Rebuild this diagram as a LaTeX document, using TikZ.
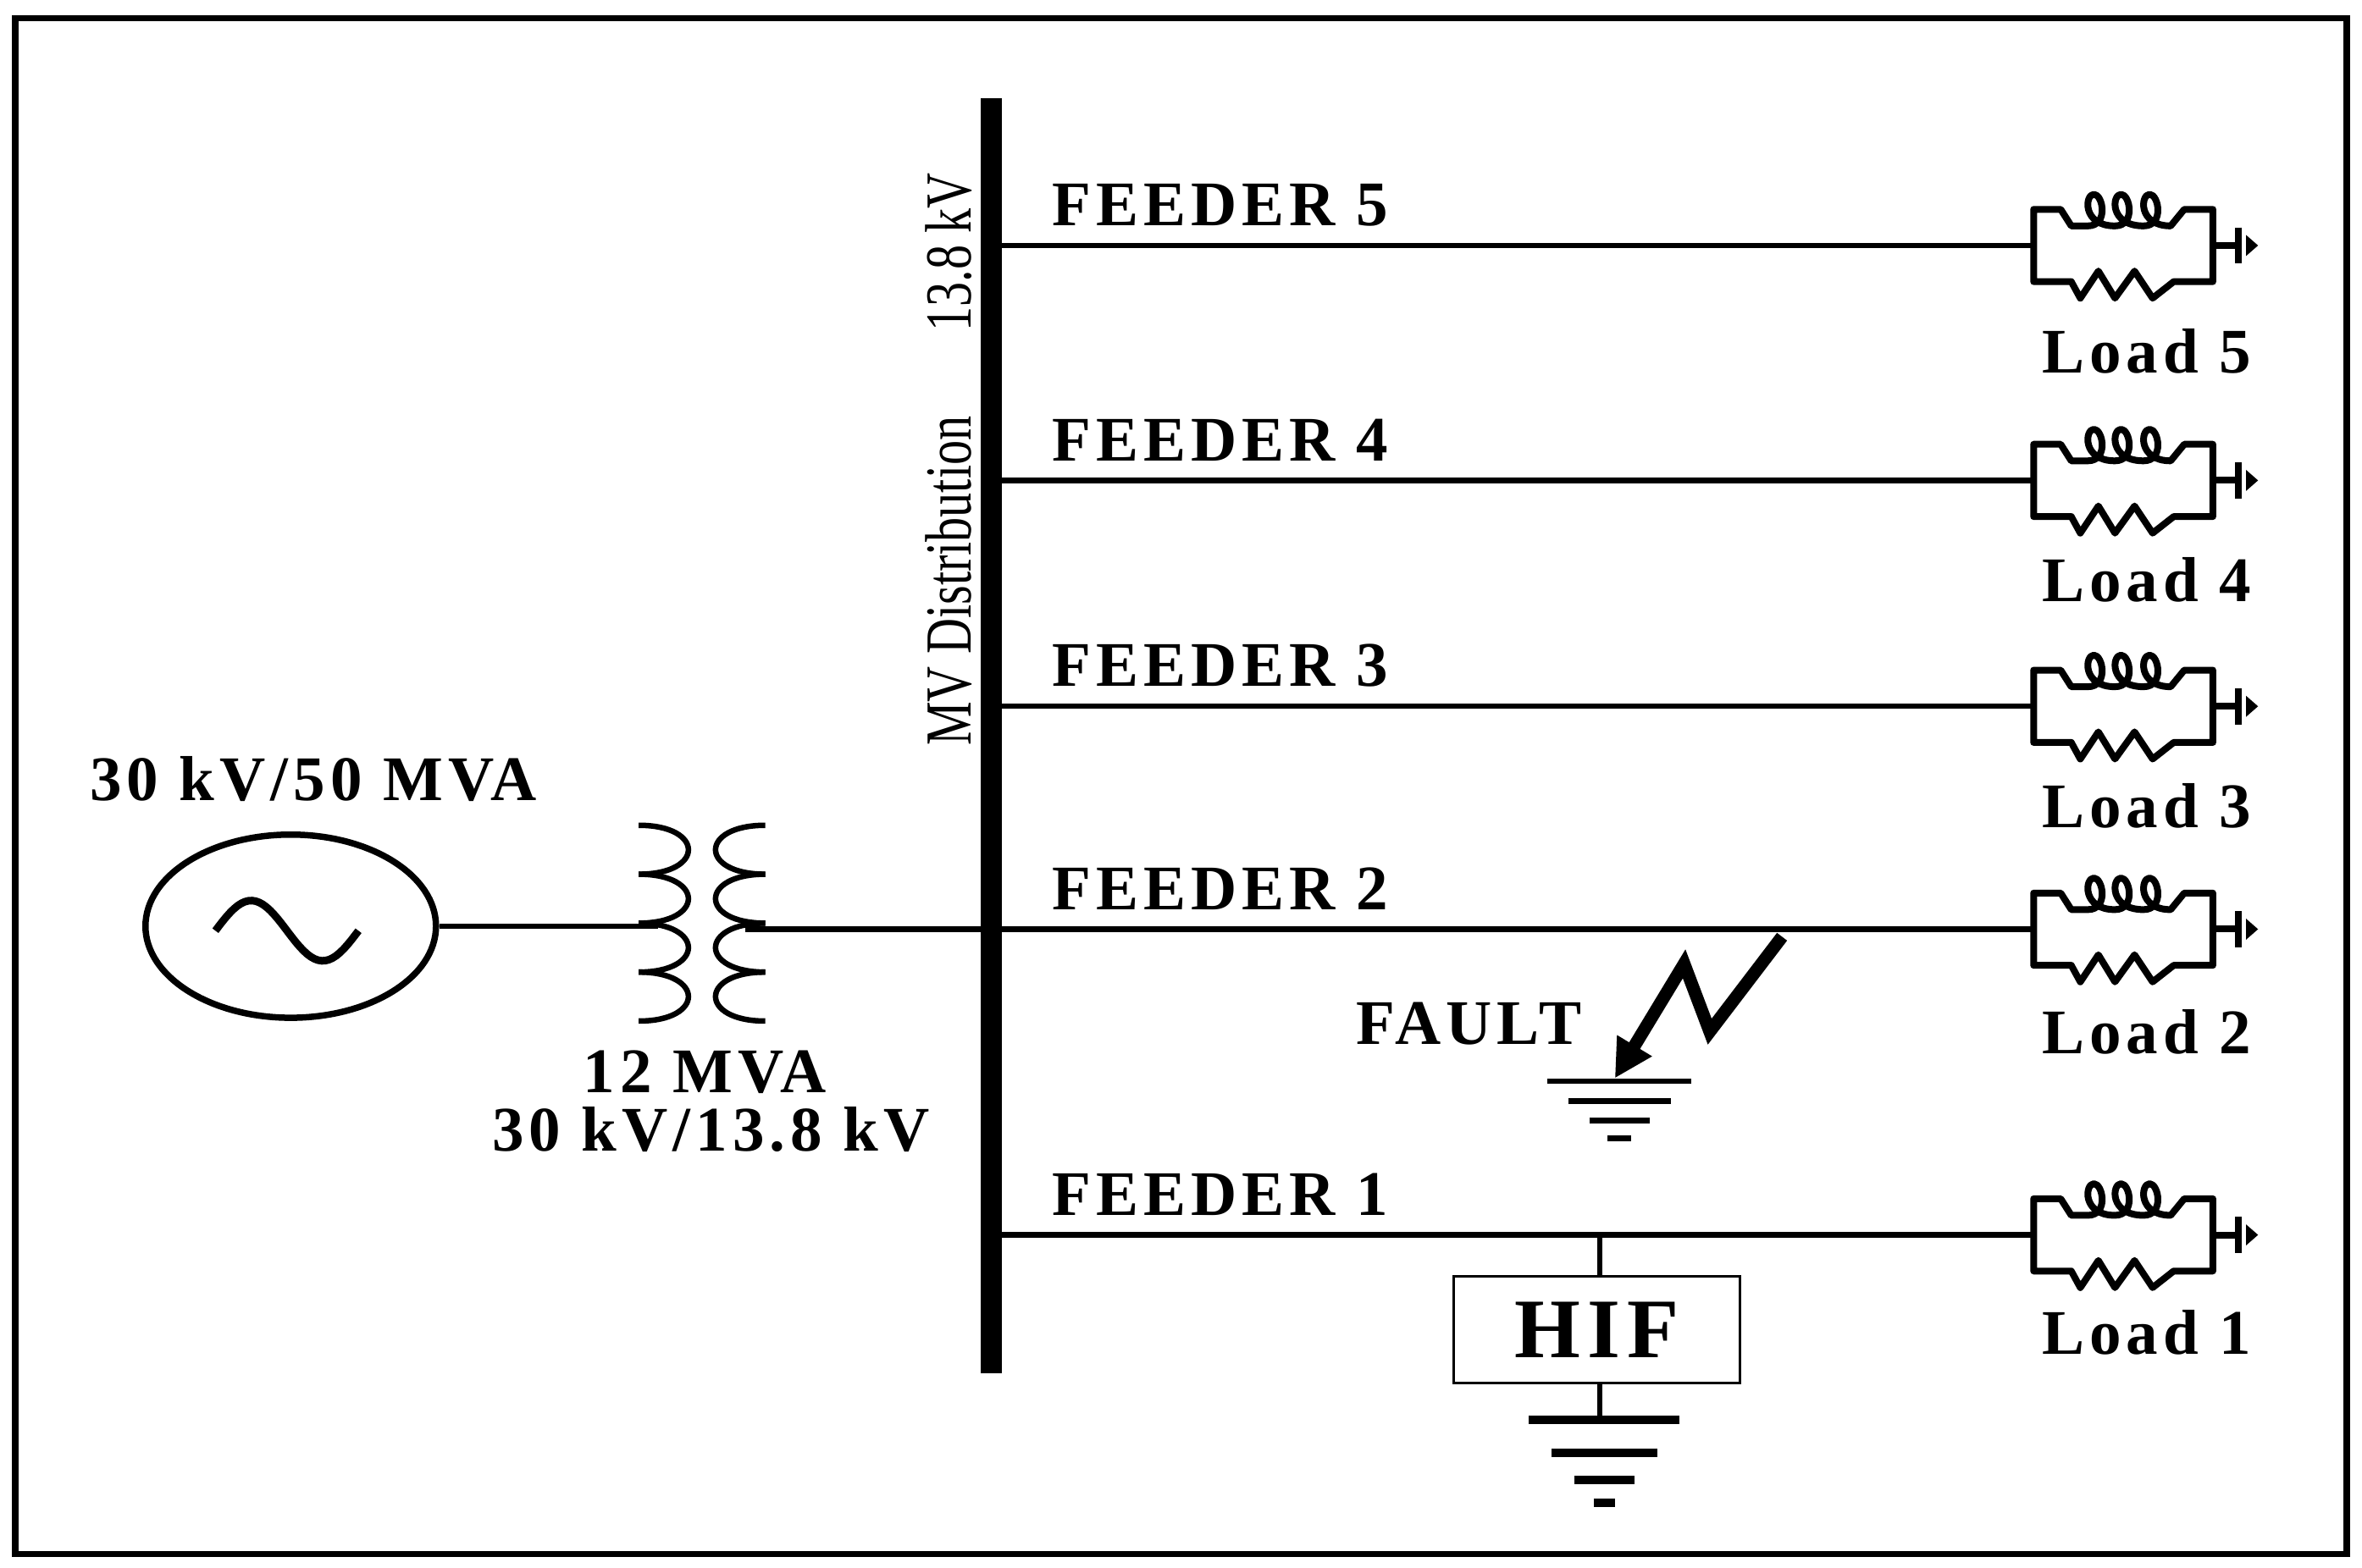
\documentclass[tikz,border=0pt]{standalone}
\usepackage{fontspec}
\setmainfont{Liberation Serif}[LetterSpace=8]
\usetikzlibrary{shapes.geometric,arrows.meta}
\begin{document}
\begin{tikzpicture}[x=0.0125cm,y=-0.0125cm,line width=1.1pt,font=\bfseries\fontsize{15}{17}\selectfont]
\tikzset{
% line styles
bus/.style={line width=5pt},
wire/.style={line width=1.3pt},
% load with parallel coil and resistor, local origin at its left terminal
load/.pic={
\draw[line width=1.6pt,line join=round] (0,0) -- (0,-24) -- (18,-24) -- (25,-13) -- (36,-13)
.. controls (50,-13) and (46,-34) .. (40,-34) .. controls (34,-34) and (32,-13) .. (54,-13)
.. controls (68,-13) and (64,-34) .. (58,-34) .. controls (52,-34) and (50,-13) .. (73,-13)
.. controls (87,-13) and (83,-34) .. (77,-34) .. controls (71,-34) and (69,-13) .. (91,-13)
-- (100,-24) -- (119,-24) -- (119,24) -- (93,24) -- (79,35) -- (67,17) -- (54,35) -- (43,17) -- (31,35) -- (25,24) -- (0,24) -- cycle;
\draw[line width=1.6pt] (119,0) -- (136,0) (136,-12) -- (136,12);
\fill (141,-7) -- (149,0) -- (141,7) -- cycle;
},
% earth symbol, origin at its top bar
earth/.pic={
\draw[wire] (-48,0) -- (48,0) (-34,13) -- (34,13) (-20,26) -- (20,26) (-8,38) -- (8,38);
},
lbl/.style={inner sep=0pt}
}
\useasboundingbox (0,0) rectangle (1568,1041);
\draw[line width=1.5pt] (10,12) rectangle (1558,1032);

% bus bar
\coordinate (bustop) at (658,65);
\coordinate (busbot) at (658,912);
\draw[bus] (bustop) -- (busbot);
\node[lbl,rotate=90,font=\fontsize{15.5}{17}\selectfont\addfontfeature{FakeStretch=0.75,LetterSpace=0}] (buslbl) at (630,305)
{MV Distribution\hspace{20pt}13.8 kV};

% feeders and loads
\foreach \n/\y in {5/163,4/319,3/469,2/617,1/820}{
\coordinate (f\n) at (658,\y);
\coordinate (l\n) at (1350,\y);
\draw[wire] (f\n) -- (l\n);
\pic at (l\n) {load};
\node[lbl,anchor=west] (fl\n) at (697,\y-27) {FEEDER \n};
}
\foreach \n/\y in {5/233,4/385,3/535,2/685,1/885}
\node[lbl] (ll\n) at (1425,\y) {Load \n};

% source and transformer
\node[draw,ellipse,line width=1.5pt,inner sep=0pt,minimum width=2.41cm,minimum height=1.52cm] (gen) at (193,615) {};
\draw[line width=1.8pt] plot[domain=0:1,samples=40] ({143+95*\x},{618-20*sin(360*\x)});
\node[lbl] (genlbl) at (208,517) {30 kV/50 MVA};
\coordinate (tl) at (437,615);
\coordinate (tr) at (495,617);
\draw[wire] (gen) -- (tl);
\foreach \k in {0,1,2,3}{
\draw[wire] (424,548+32.5*\k) .. controls (468,548+32.5*\k) and (468,580.5+32.5*\k) .. (424,580.5+32.5*\k);
\draw[wire] (508,548+32.5*\k) .. controls (464,548+32.5*\k) and (464,580.5+32.5*\k) .. (508,580.5+32.5*\k);
}
\draw[wire] (tr) -- (f2);
\node[lbl] (trlbl) at (468,712) {12 MVA};
\node[lbl] (trlbl2) at (472,750) {30 kV/13.8 kV};

% fault on feeder 2
\coordinate (fs) at (1183,622);
\coordinate (fg) at (1072,716);
\draw[line width=3pt,line join=miter,-{Triangle[length=9pt,width=9pt]}] (fs) -- (1135,685) -- (1118,640) -- (fg);
\pic at (1075,718) {earth};
\node[lbl] (faultlbl) at (975,680) {FAULT};

% high impedance fault on feeder 1
\node[draw,line width=0.6pt,minimum width=2.37cm,minimum height=0.88cm,font=\bfseries\fontsize{20}{22}\selectfont] (hif) at (1060,883) {HIF};
\coordinate (ht) at (1062,820);
\coordinate (hg) at (1062,943);
\draw[wire] (ht) -- (hif.north -| ht);
\draw[wire] (hif.south -| hg) -- (hg);
\begin{scope}[line width=2pt]
\draw (1015,943) -- (1115,943) (1030,965) -- (1100,965) (1045,983) -- (1085,983) (1058,998) -- (1072,998);
\end{scope}
\end{tikzpicture}
\end{document}
